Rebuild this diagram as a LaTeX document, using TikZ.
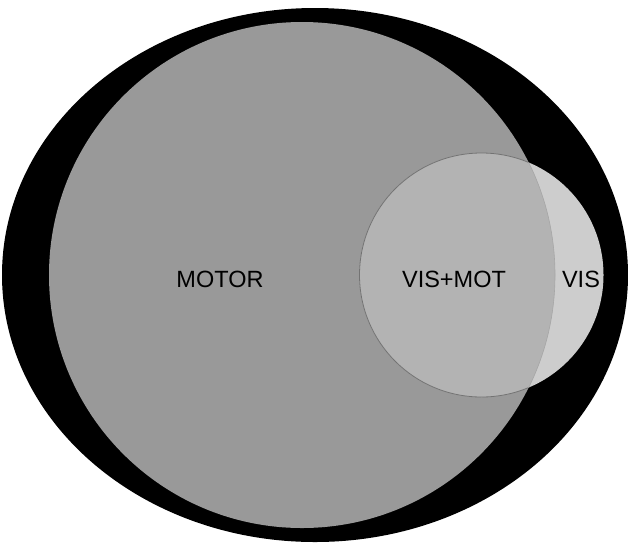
\documentclass[tikz,border=0pt]{standalone}
\usepackage{fontspec}
\setmainfont{Liberation Sans}
\begin{document}
\begin{tikzpicture}[x=1pt,y=-1pt,
  lbl/.style={font=\fontsize{23.5}{26}\selectfont, text=black, inner sep=0pt, anchor=base}]
\useasboundingbox (0,0) rectangle (628,544);
\definecolor{motorgray}{HTML}{999999}
\definecolor{bothgray}{HTML}{B3B3B3}
\definecolor{visgray}{HTML}{CDCDCD}
% outer black ellipse
\fill[black] (315,275) ellipse [x radius=313, y radius=267];
% MOTOR circle
\fill[motorgray] (302,275) circle [radius=253];
% VIS circle
\fill[visgray] (481.5,275) circle [radius=122];
% overlap
\begin{scope}
  \clip (302,275) circle [radius=253];
  \fill[bothgray] (481.5,275) circle [radius=122];
  \draw[line width=0.8pt, black!55] (481.5,275) circle [radius=122];
\end{scope}
\begin{scope}
  \clip (481.5,275) circle [radius=122];
  \draw[line width=0.6pt, black!35] (302,275) circle [radius=253];
\end{scope}
\node[lbl] (motor) at (220,287) {MOTOR};
\node[lbl] (vismot) at (454,287) {VIS+MOT};
\node[lbl] (vis) at (581,287) {VIS};
\end{tikzpicture}
\end{document}
